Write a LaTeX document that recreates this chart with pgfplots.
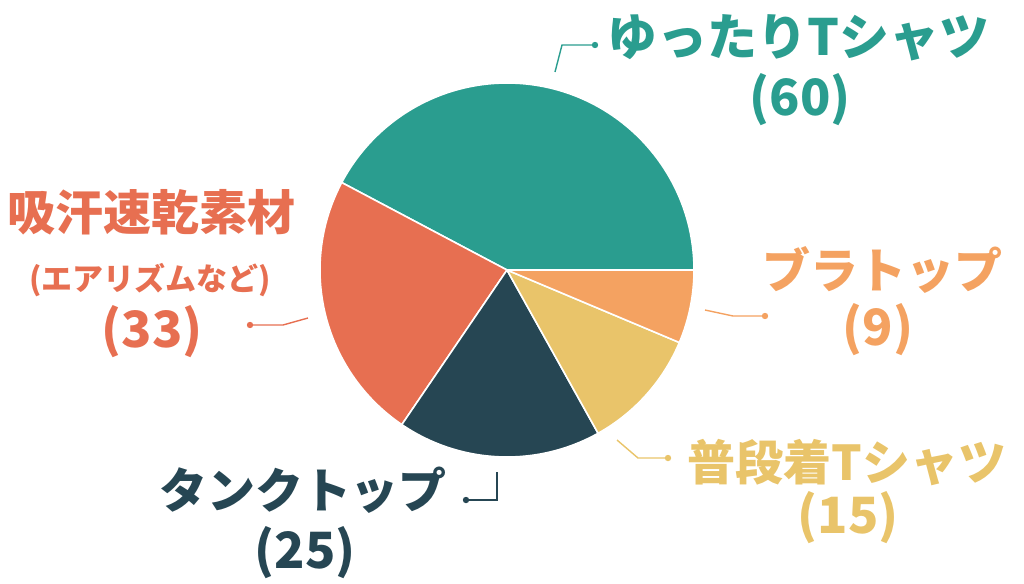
\documentclass[border=0pt]{standalone}
\usepackage{pgfplots}
\pgfplotsset{compat=1.18}
\usepackage{pgfplotstable}
\usepackage{fontspec}
\setmainfont{Noto Sans CJK JP}

\definecolor{cteal}{HTML}{2A9D8F}
\definecolor{cred}{HTML}{E76F51}
\definecolor{cdark}{HTML}{264653}
\definecolor{cyellow}{HTML}{E9C46A}
\definecolor{corange}{HTML}{F4A261}

% slices counter-clockwise from 3 o'clock
\pgfplotstableread{
value colour
60 cteal
33 cred
25 cdark
15 cyellow
9 corange
}\piedata

\begin{document}
\begin{tikzpicture}
% cumulative angles
\pgfplotstablegetrowsof{\piedata}
\pgfmathtruncatemacro\lastrow{\pgfplotsretval-1}
\gdef\total{0}
\foreach \i in {0,...,\lastrow}{%
  \pgfplotstablegetelem{\i}{value}\of\piedata
  \pgfmathsetmacro\t{\total+\pgfplotsretval}%
  \global\let\total\t}
\gdef\acc{0}
\foreach \i in {0,...,\lastrow}{%
  \pgfplotstablegetelem{\i}{value}\of\piedata
  \pgfmathsetmacro\s{\acc/\total*360}%
  \pgfmathsetmacro\na{\acc+\pgfplotsretval}%
  \pgfmathsetmacro\e{\na/\total*360}%
  \expandafter\xdef\csname pieS\i\endcsname{\s}%
  \expandafter\xdef\csname pieE\i\endcsname{\e}%
  \global\let\acc\na
  \pgfplotstablegetelem{\i}{colour}\of\piedata
  \expandafter\xdef\csname pieC\i\endcsname{\pgfplotsretval}}
\begin{axis}[
    width=512pt, height=291.5pt,
    scale only axis,
    hide axis,
    clip=false,
    xmin=0, xmax=1024,
    ymin=0, ymax=583,
]
\pgfplotsinvokeforeach{0,...,4}{
  \edef\sector{\noexpand\fill[fill=\csname pieC#1\endcsname, draw=white, line width=0.8pt, line join=round]
    (axis cs:507,313) -- ++(\csname pieS#1\endcsname:93.5pt)
    arc[start angle=\csname pieS#1\endcsname, end angle=\csname pieE#1\endcsname, radius=93.5pt] -- cycle;}
  \sector
}
% leader lines
\draw[cteal, line width=0.7pt] (axis cs:555,511) -- (axis cs:562,538) -- (axis cs:595,538);
\fill[cteal] (axis cs:595,538) circle[radius=1.6pt];
\draw[corange, line width=0.7pt] (axis cs:705,273) -- (axis cs:733,267) -- (axis cs:765,267);
\fill[corange] (axis cs:765,267) circle[radius=1.6pt];
\draw[cyellow, line width=0.7pt] (axis cs:617,143) -- (axis cs:638,125) -- (axis cs:668,125);
\fill[cyellow] (axis cs:668,125) circle[radius=1.6pt];
\draw[cdark, line width=0.7pt] (axis cs:497,111) -- (axis cs:497,83) -- (axis cs:466,83);
\fill[cdark] (axis cs:466,83) circle[radius=1.6pt];
\draw[cred, line width=0.7pt] (axis cs:308,265) -- (axis cs:283,258) -- (axis cs:250,258);
\fill[cred] (axis cs:250,258) circle[radius=1.6pt];
% labels
\node[cteal, font=\fontsize{25}{28}\selectfont\bfseries] at (axis cs:798,545) {ゆったりTシャツ};
\node[cteal, font=\fontsize{25}{28}\selectfont\bfseries] at (axis cs:800,483) {(60)};
\node[corange, font=\fontsize{24}{28}\selectfont\bfseries] at (axis cs:882,313) {ブラトップ};
\node[corange, font=\fontsize{25}{28}\selectfont\bfseries] at (axis cs:878,253) {(9)};
\node[cyellow, font=\fontsize{24}{28}\selectfont\bfseries] at (axis cs:847,120) {普段着Tシャツ};
\node[cyellow, font=\fontsize{25}{28}\selectfont\bfseries] at (axis cs:848,65) {(15)};
\node[cdark, font=\fontsize{24}{28}\selectfont\bfseries] at (axis cs:303,93) {タンクトップ};
\node[cdark, font=\fontsize{25}{28}\selectfont\bfseries] at (axis cs:305,30) {(25)};
\node[cred, font=\fontsize{24}{28}\selectfont\bfseries] at (axis cs:152,371) {吸汗速乾素材};
\node[cred, font=\fontsize{15.5}{18}\selectfont\bfseries] at (axis cs:150,303) {(エアリズムなど)};
\node[cred, font=\fontsize{25}{28}\selectfont\bfseries] at (axis cs:152,251) {(33)};
\end{axis}
\pgfresetboundingbox
\path (current axis.south west) rectangle (current axis.north east);
\end{tikzpicture}
\end{document}
